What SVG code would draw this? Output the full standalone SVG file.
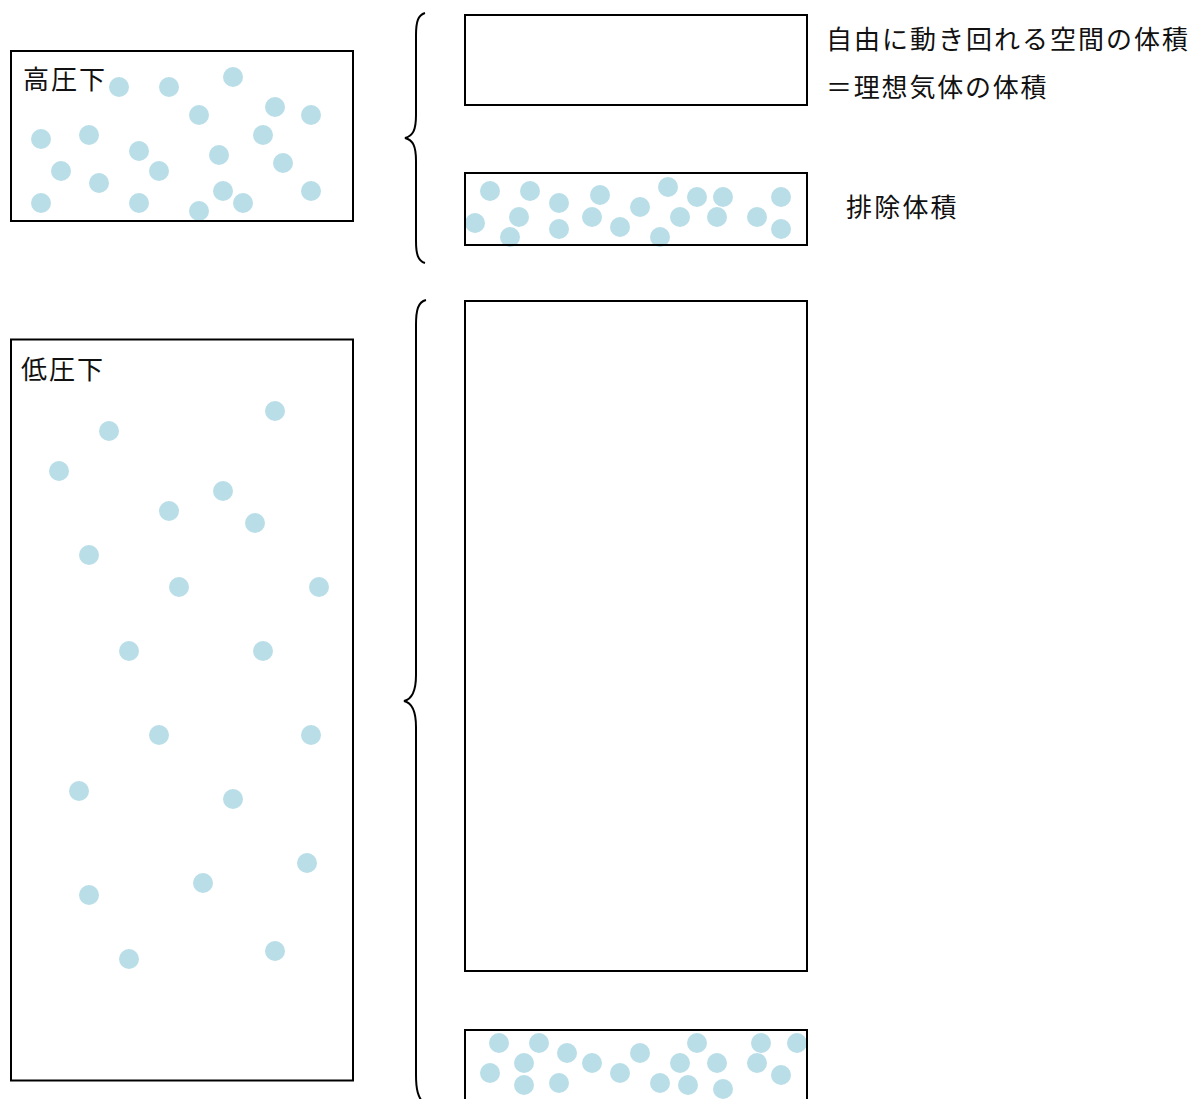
<svg xmlns="http://www.w3.org/2000/svg" width="1190" height="1099" viewBox="0 0 1190 1099">
<style>
.box{fill:none;stroke:#000;stroke-width:2}
.m{fill:#b9dee8}
.t{font-family:"Noto Sans CJK JP","Noto Sans CJK SC",sans-serif;font-size:26px;fill:#111}
.br{fill:none;stroke:#000;stroke-width:2}
</style>
<defs><circle id="d" r="10" class="m"/></defs>
<rect width="1190" height="1099" fill="#fff"/>
<g id="high-pressure">
<g>
<use href="#d" x="119" y="87"/><use href="#d" x="169" y="87"/><use href="#d" x="233" y="77"/><use href="#d" x="199" y="115"/><use href="#d" x="275" y="107"/><use href="#d" x="311" y="115"/><use href="#d" x="41" y="139"/><use href="#d" x="89" y="135"/><use href="#d" x="139" y="151"/><use href="#d" x="219" y="155"/><use href="#d" x="263" y="135"/><use href="#d" x="61" y="171"/><use href="#d" x="99" y="183"/><use href="#d" x="159" y="171"/><use href="#d" x="283" y="163"/><use href="#d" x="41" y="203"/><use href="#d" x="139" y="203"/><use href="#d" x="199" y="211"/><use href="#d" x="223" y="191"/><use href="#d" x="243" y="203"/><use href="#d" x="311" y="191"/>
</g>
<rect class="box" x="11" y="51" width="342" height="170"/>
<text class="t" x="23" y="89" letter-spacing="2">高圧下</text>
</g>
<g id="low-pressure">
<g>
<use href="#d" x="109" y="431"/><use href="#d" x="275" y="411"/><use href="#d" x="59" y="471"/><use href="#d" x="223" y="491"/><use href="#d" x="169" y="511"/><use href="#d" x="255" y="523"/><use href="#d" x="89" y="555"/><use href="#d" x="179" y="587"/><use href="#d" x="319" y="587"/><use href="#d" x="129" y="651"/><use href="#d" x="263" y="651"/><use href="#d" x="159" y="735"/><use href="#d" x="311" y="735"/><use href="#d" x="79" y="791"/><use href="#d" x="233" y="799"/><use href="#d" x="307" y="863"/><use href="#d" x="203" y="883"/><use href="#d" x="89" y="895"/><use href="#d" x="129" y="959"/><use href="#d" x="275" y="951"/>
</g>
<rect class="box" x="11" y="339.5" width="342" height="741"/>
<text class="t" x="21" y="379" letter-spacing="2">低圧下</text>
</g>
<g id="free-space-high">
<rect class="box" x="465" y="15" width="342" height="90"/>
</g>
<g id="excluded-high">
<g>
<use href="#d" x="490" y="191"/><use href="#d" x="530" y="191"/><use href="#d" x="559" y="203"/><use href="#d" x="600" y="195"/><use href="#d" x="668" y="187"/><use href="#d" x="697" y="197"/><use href="#d" x="723" y="197"/><use href="#d" x="781" y="197"/><use href="#d" x="475" y="223"/><use href="#d" x="519" y="217"/><use href="#d" x="510" y="237"/><use href="#d" x="559" y="229"/><use href="#d" x="592" y="217"/><use href="#d" x="620" y="227"/><use href="#d" x="640" y="207"/><use href="#d" x="660" y="237"/><use href="#d" x="680" y="217"/><use href="#d" x="717" y="217"/><use href="#d" x="757" y="217"/><use href="#d" x="781" y="229"/>
</g>
<rect class="box" x="465" y="173" width="342" height="72"/>
</g>
<g id="free-space-low">
<rect class="box" x="465" y="301" width="342" height="670"/>
</g>
<g id="excluded-low">
<g>
<use href="#d" x="499" y="1043"/><use href="#d" x="539" y="1043"/><use href="#d" x="567" y="1053"/><use href="#d" x="524" y="1063"/><use href="#d" x="490" y="1073"/><use href="#d" x="524" y="1085"/><use href="#d" x="559" y="1083"/><use href="#d" x="592" y="1063"/><use href="#d" x="620" y="1073"/><use href="#d" x="640" y="1053"/><use href="#d" x="660" y="1083"/><use href="#d" x="697" y="1043"/><use href="#d" x="680" y="1063"/><use href="#d" x="688" y="1085"/><use href="#d" x="717" y="1063"/><use href="#d" x="723" y="1089"/><use href="#d" x="761" y="1043"/><use href="#d" x="757" y="1063"/><use href="#d" x="797" y="1043"/><use href="#d" x="781" y="1075"/>
</g>
<rect class="box" x="465" y="1030" width="342" height="100"/>
</g>
<g id="connectors">
<path class="br" d="M425,13 C418,15 416,22 416,35 L416,115 C416,130 413,136 405,138 C413,140 416,146 416,161 L416,241 C416,254 418,261 425,263"/>
<path class="br" d="M426,300 C418,302 416,310 416,325 L416,675 C416,690 413,699 404,701 C413,703 416,712 416,727 L416,1075 C416,1090 418,1097 424,1104"/>
</g>
<g id="labels">
<text class="t" x="826" y="49" letter-spacing="2">自由に動き回れる空間の体積</text>
<text class="t" x="826" y="97" letter-spacing="1.8">＝理想気体の体積</text>
<text class="t" x="846" y="217" letter-spacing="2.2">排除体積</text>
</g>
</svg>
